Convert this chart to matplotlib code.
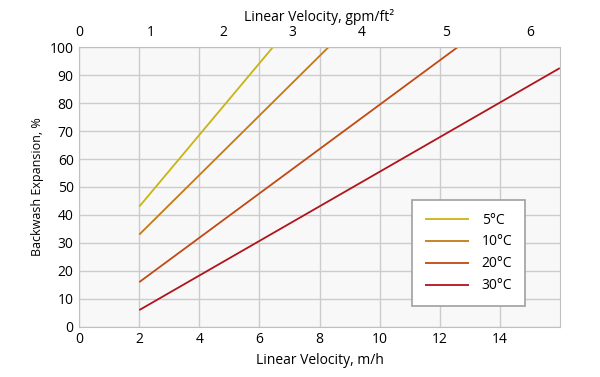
import matplotlib
matplotlib.use("Agg")
import matplotlib.pyplot as plt

# Data (m/h vs expansion %)
labels = ["5°C", "10°C", "20°C", "30°C"]
x_5 = [2, 6.45]
y_5 = [43, 100]
x_10 = [2, 8.3]
y_10 = [33, 100]
x_20 = [2, 12.6]
y_20 = [16, 100]
x_30 = [2, 16]
y_30 = [6, 92.5]
colors = ["#c8b414", "#c47a14", "#c04a14", "#b0141c"]

bottom_ticks = [0, 2, 4, 6, 8, 10, 12, 14]
y_ticks = [0, 10, 20, 30, 40, 50, 60, 70, 80, 90, 100]
top_tick_labels = ["0", "1", "2", "3", "4", "5", "6"]
top_tick_pos = [0, 2.37, 4.8, 7.1, 9.4, 12.2, 15.0]

plt.rcParams['font.family'] = ['Open Sans', 'DejaVu Sans']

fig = plt.figure(figsize=(6, 3.77), dpi=100)
ax = fig.add_axes([0.132, 0.133, 0.801, 0.742])
ax.set_facecolor("#f8f8f8")

series = [(x_5, y_5), (x_10, y_10), (x_20, y_20), (x_30, y_30)]
for (xs, ys), lab, c in zip(series, labels, colors):
    ax.plot(xs, ys, color=c, lw=1.3, label=lab, solid_capstyle='butt')

ax.set_xlim(0, 16)
ax.set_ylim(0, 100)
ax.set_xticks(bottom_ticks)
ax.set_yticks(y_ticks)
ax.grid(True, color="#cccccc", lw=1)
ax.set_axisbelow(True)
for s in ax.spines.values():
    s.set_color("#c0c0c0")
ax.tick_params(length=0, labelsize=10, pad=4)
ax.set_xlabel("Linear Velocity, m/h", fontsize=10, labelpad=4)
ax.set_ylabel("Backwash Expansion, %", fontsize=9, labelpad=4)

ax2 = ax.twiny()
ax2.set_xlim(ax.get_xlim())
ax2.set_xticks(top_tick_pos)
ax2.set_xticklabels(top_tick_labels)
ax2.tick_params(length=0, labelsize=10, pad=5)
for s in ax2.spines.values():
    s.set_visible(False)
ax2.set_xlabel("Linear Velocity, gpm/ft²", fontsize=10, labelpad=3)

leg = ax.legend(loc="lower right", bbox_to_anchor=(0.927, 0.075), frameon=True,
                fancybox=False, edgecolor="#a0a0a0", framealpha=1,
                fontsize=10, handlelength=3.2, labelspacing=0.5,
                borderpad=0.9, handletextpad=0.9, borderaxespad=0)
leg.get_frame().set_linewidth(1.2)

fig.savefig("out.png", dpi=100)
